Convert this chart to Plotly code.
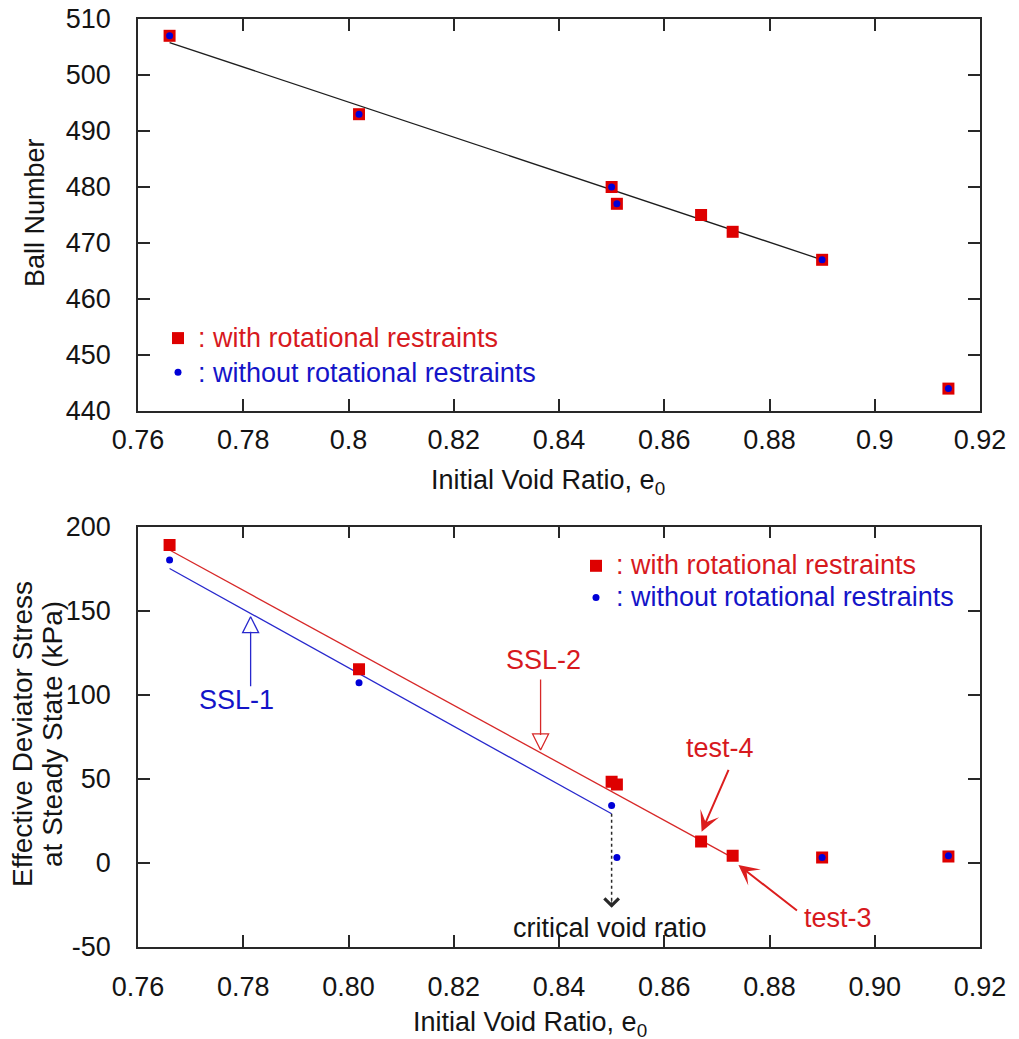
import plotly.graph_objects as go

# ---------------- data ----------------
# Top panel: ball number vs initial void ratio
top_e_with = [0.766, 0.802, 0.850, 0.851, 0.867, 0.873, 0.890, 0.914]
top_n_with = [507, 493, 480, 477, 475, 472, 467, 444]
top_e_without = [0.766, 0.802, 0.850, 0.851, 0.890, 0.914]
top_n_without = [507, 493, 480, 477, 467, 444]
top_fit_e = [0.766, 0.890]
top_fit_n = [505.8, 467.0]

# Bottom panel: effective deviator stress at steady state
bot_e_with = [0.766, 0.802, 0.850, 0.851, 0.867, 0.873, 0.890, 0.914]
bot_q_with = [189, 115, 48, 46.5, 12.5, 4, 3, 3.6]
bot_e_without = [0.766, 0.802, 0.850, 0.851, 0.890, 0.914]
bot_q_without = [180, 107, 34, 3, 3, 4]
ssl1_e = [0.766, 0.850]
ssl1_q = [175, 29]
ssl2_e = [0.766, 0.8735]
ssl2_q = [186, 2]
crit_e = [0.850, 0.850]
crit_q = [29, -27]

# tick labels
top_xticks = [0.76, 0.78, 0.80, 0.82, 0.84, 0.86, 0.88, 0.90, 0.92]
top_xticktext = ["0.76", "0.78", "0.8", "0.82", "0.84", "0.86", "0.88", "0.9", "0.92"]
bot_xticktext = ["0.76", "0.78", "0.80", "0.82", "0.84", "0.86", "0.88", "0.90", "0.92"]
top_yticks = [440, 450, 460, 470, 480, 490, 500, 510]
bot_yticks = [-50, 0, 50, 100, 150, 200]
bot_yticktext = ["-50", "0", "50", "100", "150", "200"]

# annotation anchor points (data coords of arrow tips)
ssl1_tip = (0.7814, 146.3)
ssl2_tip = (0.8365, 67.0)
test4_tip = (0.8671, 18.3)
test3_tip = (0.8741, -1.5)

RED = "rgb(222,0,0)"
BLUE = "rgb(0,0,215)"
TRED = "rgb(215,25,30)"
TBLUE = "rgb(20,20,200)"
LRED = "rgb(215,40,40)"
LBLUE = "rgb(40,40,205)"
FONT = "Liberation Sans, Arial, sans-serif"
FS = 27

W, H = 1019, 1039
def px(x):
    return x / W
def py(y):
    return 1 - y / H

def leg_name(txt, color):
    return '<span style="color:%s;font-size:%dpx">%s</span>' % (color, FS, txt)

fig = go.Figure()

# ---- top panel ----
fig.add_trace(go.Scatter(x=top_fit_e, y=top_fit_n, mode="lines",
                         line=dict(color="rgb(30,30,30)", width=1.3),
                         showlegend=False, xaxis="x", yaxis="y"))
fig.add_trace(go.Scatter(x=top_e_with, y=top_n_with, mode="markers",
                         marker=dict(symbol="square", size=12, color=RED,
                                     line=dict(width=0)),
                         name=leg_name(": with rotational restraints", TRED),
                         legend="legend", xaxis="x", yaxis="y"))
fig.add_trace(go.Scatter(x=top_e_without, y=top_n_without, mode="markers",
                         marker=dict(symbol="circle", size=7, color=BLUE,
                                     line=dict(width=0)),
                         name=leg_name(": without rotational restraints", TBLUE),
                         legend="legend", xaxis="x", yaxis="y"))

# ---- bottom panel ----
fig.add_trace(go.Scatter(x=ssl2_e, y=ssl2_q, mode="lines",
                         line=dict(color=LRED, width=1.3),
                         showlegend=False, xaxis="x2", yaxis="y2"))
fig.add_trace(go.Scatter(x=ssl1_e, y=ssl1_q, mode="lines",
                         line=dict(color=LBLUE, width=1.3),
                         showlegend=False, xaxis="x2", yaxis="y2"))
fig.add_trace(go.Scatter(x=crit_e, y=crit_q, mode="lines",
                         line=dict(color="rgb(40,40,40)", width=1.5, dash="dot"),
                         showlegend=False, xaxis="x2", yaxis="y2"))
fig.add_trace(go.Scatter(x=bot_e_with, y=bot_q_with, mode="markers",
                         marker=dict(symbol="square", size=12, color=RED,
                                     line=dict(width=0)),
                         name=leg_name(": with rotational restraints", TRED),
                         legend="legend2", xaxis="x2", yaxis="y2"))
fig.add_trace(go.Scatter(x=bot_e_without, y=bot_q_without, mode="markers",
                         marker=dict(symbol="circle", size=7, color=BLUE,
                                     line=dict(width=0)),
                         name=leg_name(": without rotational restraints", TBLUE),
                         legend="legend2", xaxis="x2", yaxis="y2"))
# open arrowheads for SSL labels
fig.add_trace(go.Scatter(x=[ssl1_tip[0]], y=[ssl1_tip[1]], mode="markers",
                         marker=dict(symbol="arrow-up-open", size=16, color=LBLUE,
                                     line=dict(color=LBLUE, width=1.3)),
                         showlegend=False, hoverinfo="skip", xaxis="x2", yaxis="y2"))
fig.add_trace(go.Scatter(x=[ssl2_tip[0]], y=[ssl2_tip[1]], mode="markers",
                         marker=dict(symbol="arrow-down-open", size=16, color=LRED,
                                     line=dict(color=LRED, width=1.3)),
                         showlegend=False, hoverinfo="skip", xaxis="x2", yaxis="y2"))

x_dom = [px(138), px(980)]
axis_common = dict(showline=True, linecolor="rgb(40,40,40)", linewidth=1.5,
                   mirror="allticks", ticks="inside", ticklen=12, tickwidth=1.5,
                   tickcolor="rgb(40,40,40)", showgrid=False, zeroline=False,
                   automargin=False,
                   tickfont=dict(family=FONT, size=FS, color="rgb(20,20,20)"))

fig.update_layout(
    width=W, height=H,
    margin=dict(l=0, r=0, t=0, b=0, autoexpand=False),
    paper_bgcolor="white", plot_bgcolor="white",
    font=dict(family=FONT, size=FS, color="rgb(20,20,20)"),
    xaxis=dict(domain=x_dom, range=[0.76, 0.92], tickvals=top_xticks,
               ticktext=top_xticktext, anchor="y", ticklabelstandoff=4, **axis_common),
    yaxis=dict(domain=[py(411), py(19)], range=[440, 510], tickvals=top_yticks,
               anchor="x", ticklabelstandoff=20, **axis_common),
    xaxis2=dict(domain=x_dom, range=[0.76, 0.92], tickvals=top_xticks,
                ticktext=bot_xticktext, anchor="y2", ticklabelstandoff=15, **axis_common),
    yaxis2=dict(domain=[py(946.5), py(526.5)], range=[-50, 200], tickvals=bot_yticks,
                ticktext=bot_yticktext,
                anchor="x2", ticklabelstandoff=20, **axis_common),
    legend=dict(x=px(158), y=py(316), xanchor="left", yanchor="top",
                bgcolor="rgba(0,0,0,0)", borderwidth=0,
                font=dict(family=FONT, size=24), tracegroupgap=0, itemwidth=30),
    legend2=dict(x=px(576), y=py(545), xanchor="left", yanchor="top",
                 bgcolor="rgba(0,0,0,0)", borderwidth=0,
                 font=dict(family=FONT, size=22), tracegroupgap=0, itemwidth=30),
)

ann = []
# axis titles
ann.append(dict(x=px(548), y=py(482), xref="paper", yref="paper",
                text="Initial Void Ratio, e<sub>0</sub>", showarrow=False,
                font=dict(family=FONT, size=FS), xanchor="center", yanchor="middle"))
ann.append(dict(x=px(530), y=py(1024), xref="paper", yref="paper",
                text="Initial Void Ratio, e<sub>0</sub>", showarrow=False,
                font=dict(family=FONT, size=FS), xanchor="center", yanchor="middle"))
ann.append(dict(x=px(35), y=py(213), xref="paper", yref="paper",
                text="Ball Number", textangle=-90, showarrow=False,
                font=dict(family=FONT, size=27), xanchor="center", yanchor="middle"))
ann.append(dict(x=px(22), y=py(734), xref="paper", yref="paper",
                text="Effective Deviator Stress", textangle=-90,
                showarrow=False, font=dict(family=FONT, size=28),
                xanchor="center", yanchor="middle"))
ann.append(dict(x=px(52), y=py(734), xref="paper", yref="paper",
                text="at Steady State (kPa)", textangle=-90,
                showarrow=False, font=dict(family=FONT, size=28),
                xanchor="center", yanchor="middle"))

# SSL-1
ann.append(dict(x=0.7788, y=96.7, xref="x2", yref="y2", text="SSL-1", showarrow=False,
                font=dict(family=FONT, size=FS, color=TBLUE)))
ann.append(dict(x=ssl1_tip[0], y=ssl1_tip[1], xref="x2", yref="y2", text="",
                showarrow=True, arrowhead=0, arrowwidth=1.3, arrowcolor=LBLUE,
                ax=0, ay=71, standoff=15))
# SSL-2
ann.append(dict(x=0.8370, y=120.5, xref="x2", yref="y2", text="SSL-2", showarrow=False,
                font=dict(family=FONT, size=FS, color=TRED)))
ann.append(dict(x=ssl2_tip[0], y=ssl2_tip[1], xref="x2", yref="y2", text="",
                showarrow=True, arrowhead=0, arrowwidth=1.3, arrowcolor=LRED,
                ax=0, ay=-72, standoff=15))
# test-4
ann.append(dict(x=0.8706, y=68.2, xref="x2", yref="y2", text="test-4", showarrow=False,
                font=dict(family=FONT, size=FS, color=TRED)))
ann.append(dict(x=test4_tip[0], y=test4_tip[1], xref="x2", yref="y2", text="",
                showarrow=True, arrowhead=3, arrowsize=1.7, arrowwidth=2,
                arrowcolor="rgb(220,30,30)", ax=27.6, ay=-63.4))
# test-3
ann.append(dict(x=0.8930, y=-33, xref="x2", yref="y2", text="test-3", showarrow=False,
                font=dict(family=FONT, size=FS, color=TRED)))
ann.append(dict(x=test3_tip[0], y=test3_tip[1], xref="x2", yref="y2", text="",
                showarrow=True, arrowhead=3, arrowsize=1.7, arrowwidth=2,
                arrowcolor="rgb(220,30,30)", ax=60, ay=46.7))
# critical void ratio
ann.append(dict(x=crit_e[1], y=crit_q[1], xref="x2", yref="y2", text="",
                showarrow=True, arrowhead=4, arrowsize=3.5, arrowwidth=0.8,
                arrowcolor="rgb(40,40,40)", ax=0, ay=-10))
ann.append(dict(x=0.8497, y=-39, xref="x2", yref="y2", text="critical void ratio",
                showarrow=False, font=dict(family=FONT, size=FS, color="rgb(20,20,20)")))

fig.update_layout(annotations=ann)
fig.write_html("out.html", config={"displayModeBar": False},
               post_script="document.body.style.margin='0';")
